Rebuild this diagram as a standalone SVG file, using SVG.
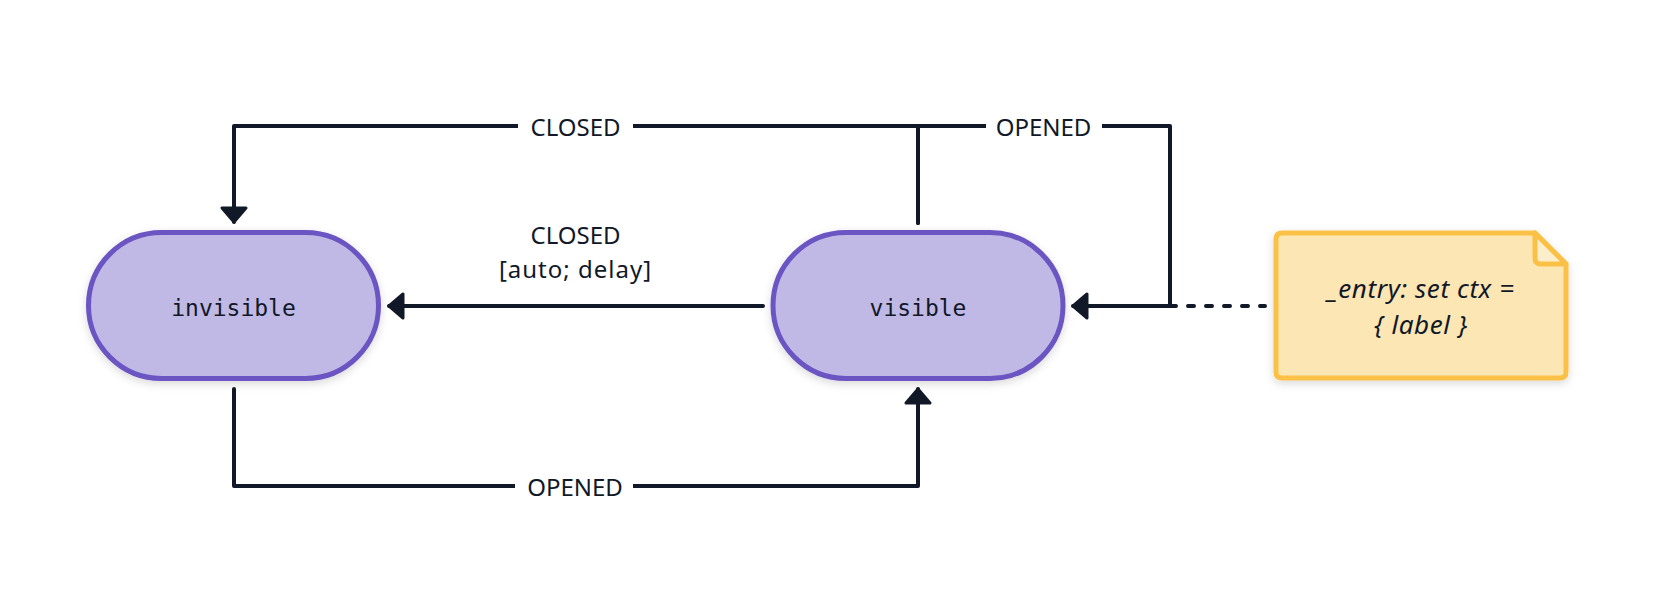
<svg xmlns="http://www.w3.org/2000/svg" width="1656" height="612" viewBox="0 0 1656 612">
<style>
.edge{fill:none;stroke:#111827;stroke-width:4;stroke-linecap:round;stroke-linejoin:round}
.state{fill:#c0b9e6;stroke:#6b55c2;stroke-width:5}
.stext{font-family:"DejaVu Sans Mono","Liberation Mono",monospace;font-size:23px;fill:#111827;text-anchor:middle}
.lbl{font-family:"Noto Sans","Open Sans",sans-serif;font-size:24px;fill:#111827;text-anchor:middle}
.lblbg{fill:#ffffff}
.ntext{font-family:"Noto Sans","Open Sans",sans-serif;font-size:26px;font-style:italic;letter-spacing:0.6px;fill:#111827;text-anchor:middle}
</style>
<defs>
<filter id="sh" x="-20%" y="-20%" width="140%" height="150%">
<feDropShadow dx="0" dy="3" stdDeviation="4" flood-color="#000" flood-opacity="0.15"/>
</filter>
<marker id="arr" markerUnits="userSpaceOnUse" viewBox="-2 -16 20 32" markerWidth="20" markerHeight="32" refX="15" refY="0" orient="auto">
<path d="M1,-12 L15,0 L1,12 Z" fill="#111827" stroke="#111827" stroke-width="3" stroke-linejoin="round"/>
</marker>
</defs>
<rect width="1656" height="612" fill="#ffffff"/>
<g id="connectors">
<path class="edge" d="M918,223 V126 H234 V222" marker-end="url(#arr)"/>
<path class="edge" d="M918,223 V126 H1170 V306 H1073" marker-end="url(#arr)"/>
<path class="edge" d="M763,306 H389" marker-end="url(#arr)"/>
<path class="edge" d="M234,389 V486 H918 V389" marker-end="url(#arr)"/>
<path class="edge" d="M1170,306 H1265" stroke-dasharray="6 12"/>
<rect class="lblbg" x="518" y="110" width="115" height="32"/>
<text class="lbl" x="575.5" y="135.5">CLOSED</text>
<rect class="lblbg" x="986" y="110" width="116" height="32"/>
<text class="lbl" x="1043.5" y="135.5">OPENED</text>
<text class="lbl" x="575.5" y="244">CLOSED</text>
<text class="lbl" x="575.5" y="278" letter-spacing="1">[auto; delay]</text>
<rect class="lblbg" x="515" y="470" width="118" height="32"/>
<text class="lbl" x="575" y="496">OPENED</text>
</g>
<g id="invisible">
<rect class="state" x="88.5" y="232.5" width="290" height="146" rx="73" filter="url(#sh)"/>
<text class="stext" x="233.5" y="316">invisible</text>
</g>
<g id="visible">
<rect class="state" x="773" y="232.5" width="290" height="146" rx="73" filter="url(#sh)"/>
<text class="stext" x="918" y="316">visible</text>
</g>
<g id="note">
<path d="M1282,233 H1535 L1566,264 V372 Q1566,378 1560,378 H1282 Q1276,378 1276,372 V239 Q1276,233 1282,233 Z" fill="#fce6b3" stroke="#fbc146" stroke-width="5" stroke-linejoin="round" filter="url(#sh)"/>
<path d="M1535,233 V258 Q1535,264 1541,264 H1566 Z" fill="#fdeecb" stroke="#fbc146" stroke-width="5" stroke-linejoin="round"/>
<text class="ntext" x="1421" y="298">_entry: set ctx =</text>
<text class="ntext" x="1421" y="334">{ label }</text>
</g>
</svg>
